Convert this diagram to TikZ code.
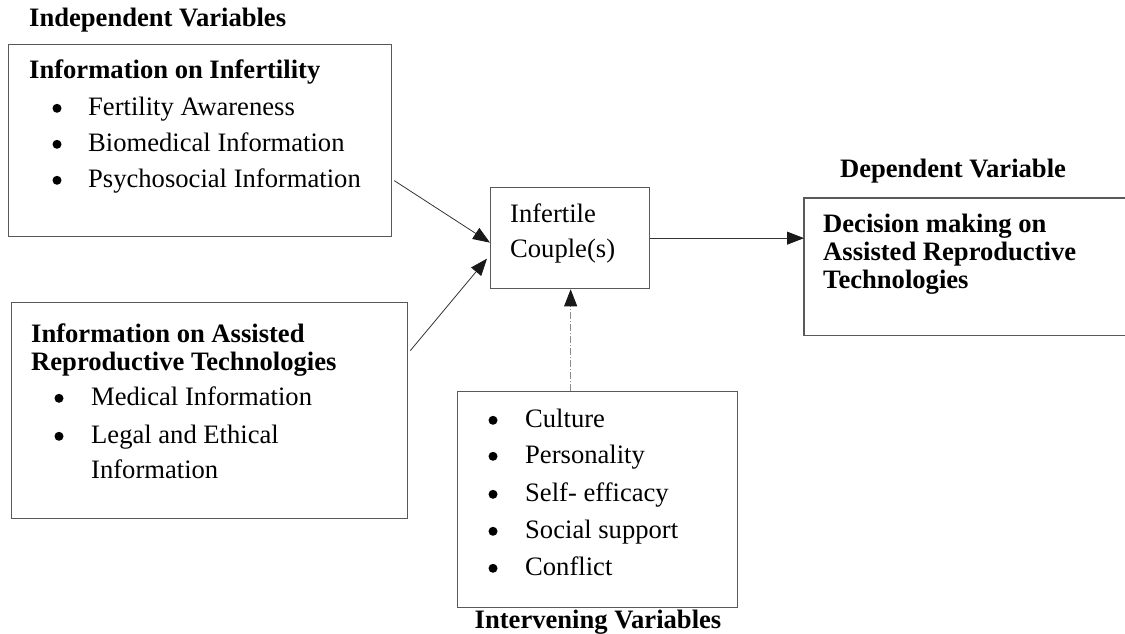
\documentclass[tikz,border=0pt]{standalone}
\usepackage{fontspec}
\setmainfont{Liberation Serif}
\usetikzlibrary{arrows.meta}
\newcommand{\fsz}{\fontsize{26.6pt}{30pt}\selectfont}
\tikzset{
  frame/.style={draw=black!65, line width=1.3pt, inner sep=0pt, anchor=north west},
  txt/.style={anchor=base west, inner sep=0pt, font=\fsz},
  btxt/.style={anchor=base west, inner sep=0pt, font=\fsz\bfseries},
  ctxt/.style={anchor=base, inner sep=0pt, font=\fsz\bfseries},
  dot/.style={circle, fill=black, inner sep=0pt, minimum size=9pt},
  conn/.style={draw=black!80, line width=0.8pt, -{Triangle[length=17pt,width=13pt,color=black!90,fill=black!90]}},
  dconn/.style={draw=black!45, line width=0.9pt, dash pattern=on 7pt off 2pt on 1pt off 2pt, -{Triangle[length=17pt,width=13pt,color=black!90,fill=black!90]}}
}
\begin{document}
\begin{tikzpicture}[x=1pt,y=-1pt]
\useasboundingbox (0,0) rectangle (1125,634);
% boxes
\node[frame, minimum width=383pt, minimum height=192pt] (b1) at (8,44) {};
\node[frame, minimum width=396pt, minimum height=216pt] (b2) at (11,302) {};
\node[frame, minimum width=159pt, minimum height=101pt] (c) at (490,187) {};
\node[frame, minimum width=280pt, minimum height=216pt] (i) at (457,391) {};
\node[inner sep=0pt, anchor=north west, minimum width=321pt, minimum height=137pt] (r) at (804,198) {};
\draw[draw=black!65, line width=1.3pt] (r.north east) -- (r.north west) -- (r.south west) -- (r.south east);
% headings
\node[btxt] (h1) at (29,27) {Independent Variables};
\node[ctxt] (h2) at (953,177) {Dependent Variable};
\node[ctxt] (h3) at (598,628) {Intervening Variables};
% box 1
\node[btxt] (t1) at (29,79) {Information on Infertility};
\node[dot] (k11) at (57,108.3) {};
\node[txt] (t11) at (88,115) {Fertility Awareness};
\node[dot] (k12) at (57,144.3) {};
\node[txt] (t12) at (88,151) {Biomedical Information};
\node[dot] (k13) at (57,180.3) {};
\node[txt] (t13) at (88,187) {Psychosocial Information};
% box 2
\node[btxt] (t2a) at (31,342) {Information on Assisted};
\node[btxt] (t2b) at (31,370) {Reproductive Technologies};
\node[dot] (k21) at (59,398.3) {};
\node[txt] (t21) at (91,405) {Medical Information};
\node[dot] (k22) at (59,436.3) {};
\node[txt] (t22) at (91,443) {Legal and Ethical};
\node[txt] (t23) at (91,478) {Information};
% centre box
\node[txt] (tc1) at (510,222) {Infertile};
\node[txt] (tc2) at (510,257) {Couple(s)};
% right box
\node[btxt] (tr1) at (823,232) {Decision making on};
\node[btxt] (tr2) at (823,260) {Assisted Reproductive};
\node[btxt] (tr3) at (823,288) {Technologies};
% intervening box
\node[dot] (k31) at (493,420.3) {};
\node[txt] (t31) at (525,427) {Culture};
\node[dot] (k32) at (493,456.3) {};
\node[txt] (t32) at (525,463) {Personality};
\node[dot] (k33) at (493,494.3) {};
\node[txt] (t33) at (525,501) {Self- efficacy};
\node[dot] (k34) at (493,531.3) {};
\node[txt] (t34) at (525,538) {Social support};
\node[dot] (k35) at (493,568.3) {};
\node[txt] (t35) at (525,575) {Conflict};
% connectors
\draw[conn] ([xshift=2pt,yshift=-40pt]b1.east) -- ([yshift=-4.5pt]c.west);
\draw[conn] ([xshift=2pt,yshift=60pt]b2.east) -- ([xshift=-3pt,yshift=-20.5pt]c.west);
\draw[conn] (c.east) -- (c.east -| r.west);
\draw[dconn] ([xshift=-27pt]i.north) -- ([xshift=-27pt]i.north |- c.south);
\end{tikzpicture}
\end{document}
